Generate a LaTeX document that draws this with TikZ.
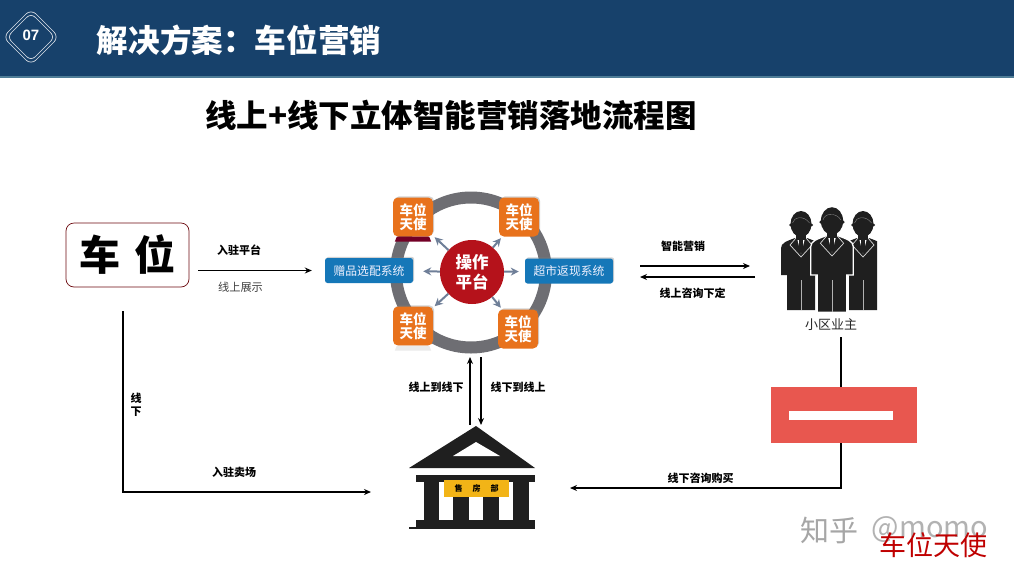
\documentclass[tikz,border=0pt]{standalone}
\usepackage{fontspec}
\setmainfont{Noto Sans CJK SC}
\newfontfamily\latinbold{Liberation Sans}
\usetikzlibrary{arrows.meta,calc,shapes.geometric,shadows}
\definecolor{headerblue}{HTML}{17416B}
\definecolor{headerline}{HTML}{4F7D97}
\definecolor{ringgray}{HTML}{6E6E73}
\definecolor{corered}{HTML}{B5121B}
\definecolor{iconorange}{HTML}{E8721C}
\definecolor{boxblue}{HTML}{1577B8}
\definecolor{spokegray}{HTML}{6F7F98}
\definecolor{bandred}{HTML}{E8574F}
\definecolor{dark}{HTML}{1F1F1F}
\definecolor{goldbar}{HTML}{F2B417}
\tikzset{
  softshadow/.style={drop shadow={opacity=.35,shadow xshift=1.2pt,shadow yshift=1.2pt}},
  lbl/.style={inner sep=0pt,font=\fontsize{11}{12}\selectfont\bfseries,text=black},
  lblthin/.style={inner sep=0pt,font=\fontsize{11.2}{12}\selectfont,text=black!75},
  arr/.style={line width=1.3pt,black,-{Stealth[length=7pt,width=6pt]}},
  plainline/.style={line width=1.3pt,black},
  spoke/.style={line width=2pt,spokegray,-{Stealth[length=8pt,width=8pt]}},
  appicon/.style={rectangle,rounded corners=5pt,fill=iconorange,softshadow,minimum width=40pt,minimum height=39pt,inner sep=0pt,align=center,text=white,font=\fontsize{13.5}{14}\selectfont\bfseries},
  sysbox/.style={rectangle,rounded corners=2.5pt,fill=boxblue,softshadow,minimum width=88pt,minimum height=25pt,inner sep=0pt,text=white!95!blue,font=\fontsize{11.8}{12}\selectfont},
  ownerout/.style={},
  owner/.pic={
    \path[fill=dark,ownerout] (-20,51) -- (-20,24) .. controls (-20,19) and (-14,17) .. (-6,14) -- (6,14) .. controls (14,17) and (20,19) .. (20,24) -- (20,51) -- (14,51) -- (14,86) -- (-14,86) -- (-14,51) -- cycle;
    \draw[white!70!black,line width=.6pt] (0,56) -- (0,86);
    \fill[white] (-4,14) -- (4,14) -- (0,30) -- cycle;
    \fill[dark] (-1.8,15) -- (1.8,15) -- (2,26) -- (0,30) -- (-2,26) -- cycle;
    \draw[white!85!black,line width=.7pt] (-5,14) -- (-11,21) -- (0,33) -- (11,21) -- (5,14);
    \fill[dark] (-5,8) rectangle (5,16);
    \fill[dark] (0,0) ellipse (10.5 and 13);
    \draw[white!55!black,line width=.35pt] (-8.5,-1) .. controls (-7.5,-7) and (3,-9) .. (8.5,-1);
    \fill[dark] (-10.5,1) circle (1.5) (10.5,1) circle (1.5);
  }
}
\begin{document}
\begin{tikzpicture}[x=1pt,y=-1pt]
\useasboundingbox (0,0) rectangle (1014,571);
\fill[white] (0,0) rectangle (1014,571);
% header
\fill[headerblue] (0,0) rectangle (1014,76);
\fill[headerline] (0,76) rectangle (1014,77.5);
\draw[white!85!headerblue,line width=.7pt,rounded corners=7pt] (31,9) -- (59,37) -- (31,65) -- (3,37) -- cycle;
\draw[white!85!headerblue,line width=.7pt,rounded corners=6pt] (31,13) -- (55,37) -- (31,61) -- (7,37) -- cycle;
\node[inner sep=0pt,text=white,font=\latinbold\fontsize{15}{15}\selectfont\bfseries] (secnum) at (31,35) {07};
\node[inner sep=0pt,text=white,font=\fontsize{31.6}{32}\selectfont\bfseries] (title) at (239,40) {解决方案：车位营销};
\node[inner sep=0pt,text=black,font=\fontsize{31.5}{32}\selectfont\bfseries] (heading) at (451,115) {线上+线下立体智能营销落地流程图};
% left box
\node[draw=corered!60!black,line width=.7pt,rounded corners=8pt,minimum width=123pt,minimum height=64pt,inner sep=0pt,font=\fontsize{41}{41}\selectfont\bfseries,text=black] (chewei) at (127.5,255) {车\,\,位};
% ring and platform
\node[circle,draw=ringgray,line width=12pt,minimum size=150pt,inner sep=0pt] (ring) at (471,272.5) {};
\node[circle,fill=corered,minimum size=64pt,inner sep=0pt,align=center,text=white,font=\fontsize{16.5}{20}\selectfont\bfseries] (core) at (472,272) {操作\\平台};
\node[sysbox] (boxL) at (369,270.5) {赠品选配系统};
\node[sysbox] (boxR) at (569,271) {超市返现系统};
\node[appicon] (iconTL) at (413,217) {车位\\天使};
\node[appicon] (iconTR) at (519,217) {车位\\天使};
\node[appicon] (iconBL) at (413,326) {车位\\天使};
\node[appicon] (iconBR) at (518,329) {车位\\天使};
\fill[purple!60!black] ([xshift=2pt,yshift=-5pt]iconTL.south west) -- ([xshift=-2pt,yshift=-5pt]iconTL.south east) -- ([xshift=-4pt]iconTL.south east) -- ([xshift=4pt]iconTL.south west) -- cycle;
\fill[black!8] ([xshift=2pt,yshift=-5pt]iconBL.south west) -- ([xshift=-2pt,yshift=-5pt]iconBL.south east) -- ([xshift=-4pt]iconBL.south east) -- ([xshift=4pt]iconBL.south west) -- cycle;
\draw[spoke,shorten >=2pt] (core) -- (iconTL);
\draw[spoke,shorten >=2pt] (core) -- (iconTR);
\draw[spoke,shorten >=2pt] (core) -- (iconBL);
\draw[spoke,shorten >=2pt] (core) -- (iconBR);
\draw[spoke,shorten >=10pt] (core) -- (boxL);
\draw[spoke,shorten >=6pt] (core) -- (boxR);
% owners
\pic at (801,224) {owner};
\begin{scope}
\clip (840,200) rectangle (877,320);
\pic at (863,224) {owner};
\end{scope}
\pic[scale=1.06,ownerout/.style={draw=white,line width=1.3pt}] at (832,221) {owner};
\node[inner sep=0pt,font=\fontsize{13}{13}\selectfont,text=black!85] (owners) at (831,325) {小区业主};
% red bar
\node[fill=bandred,minimum width=146pt,minimum height=56pt,inner sep=0pt] (redbox) at (844,415) {};
\node[fill=white,minimum width=104pt,minimum height=9pt,inner sep=0pt] (redbar) at (841,415.5) {};
% building
\fill[dark] (476,426) -- (535,468) -- (409,468) -- cycle;
\fill[white] (476,442) -- (500,456) -- (453,456) -- cycle;
\fill[dark] (416,475) rectangle (535,482);
\foreach \a/\b in {424/439,453/469,483/499,513/529} \fill[dark] (\a,482) rectangle (\b,521);
\fill[dark] (416,520) rectangle (535,529);
\fill[dark] (409,527) rectangle (416,529);
\node[fill=goldbar,minimum width=65pt,minimum height=17pt,inner sep=0pt,font=\fontsize{8}{8}\selectfont\bfseries,text=black] (sales) at (476.5,488.5) {售\hspace{10pt}房\hspace{10pt}部};
\coordinate (bldgL) at (371,492);
\coordinate (bldgR) at (570,488);
% connectors
\draw[arr,shorten <=9pt,shorten >=13pt] (chewei.east |- boxL.west) -- (boxL.west);
\coordinate (upL) at (640,266);
\coordinate (upR) at (750,266);
\coordinate (loL) at (640,277);
\coordinate (loR) at (755,277);
\draw[arr] (upL) -- (upR);
\draw[arr] (loR) -- (loL);
\coordinate (vUpB) at (470,425);
\coordinate (vUpT) at (470,357);
\coordinate (vDnB) at (481,425);
\coordinate (vDnT) at (481,357);
\draw[arr] (vUpB) -- (vUpT);
\draw[arr] (vDnT) -- (vDnB);
\coordinate (leftTop) at (123,311);
\coordinate (leftBot) at (123,492);
\draw[arr] (leftTop) -- (leftBot) -- (bldgL);
\coordinate (ownersLine) at (841,337);
\draw[plainline] (ownersLine) -- (redbar.center |- redbox.north);
\coordinate (elbowR) at (841,488);
\draw[arr] (redbar.center |- redbox.south) -- (elbowR) -- (bldgR);
% labels
\node[lbl] (l1) at (239,250) {入驻平台};
\node[lblthin] (l2) at (240.5,287) {线上展示};
\node[lbl] (l3) at (683,246) {智能营销};
\node[lbl] (l4) at (692.5,293) {线上咨询下定};
\node[lbl,align=center] (l5) at (136,405) {线\\[1pt]下};
\node[lbl] (l6) at (234,472) {入驻卖场};
\node[lbl] (l7) at (436,387) {线上到线下};
\node[lbl] (l8) at (518,387) {线下到线上};
\node[lbl] (l9) at (700.5,478) {线下咨询购买};
% watermark
\node[inner sep=0pt,text=black!35,font=\fontsize{29}{29}\selectfont] (w1) at (829,530) {知乎};
\node[inner sep=0pt,text=black!30,font=\fontsize{29}{29}\selectfont] (w2) at (930,530) {@momo};
\node[inner sep=0pt,text=red!75!black,font=\fontsize{27}{27}\selectfont] (w3) at (933,545) {车位天使};
\end{tikzpicture}
\end{document}
